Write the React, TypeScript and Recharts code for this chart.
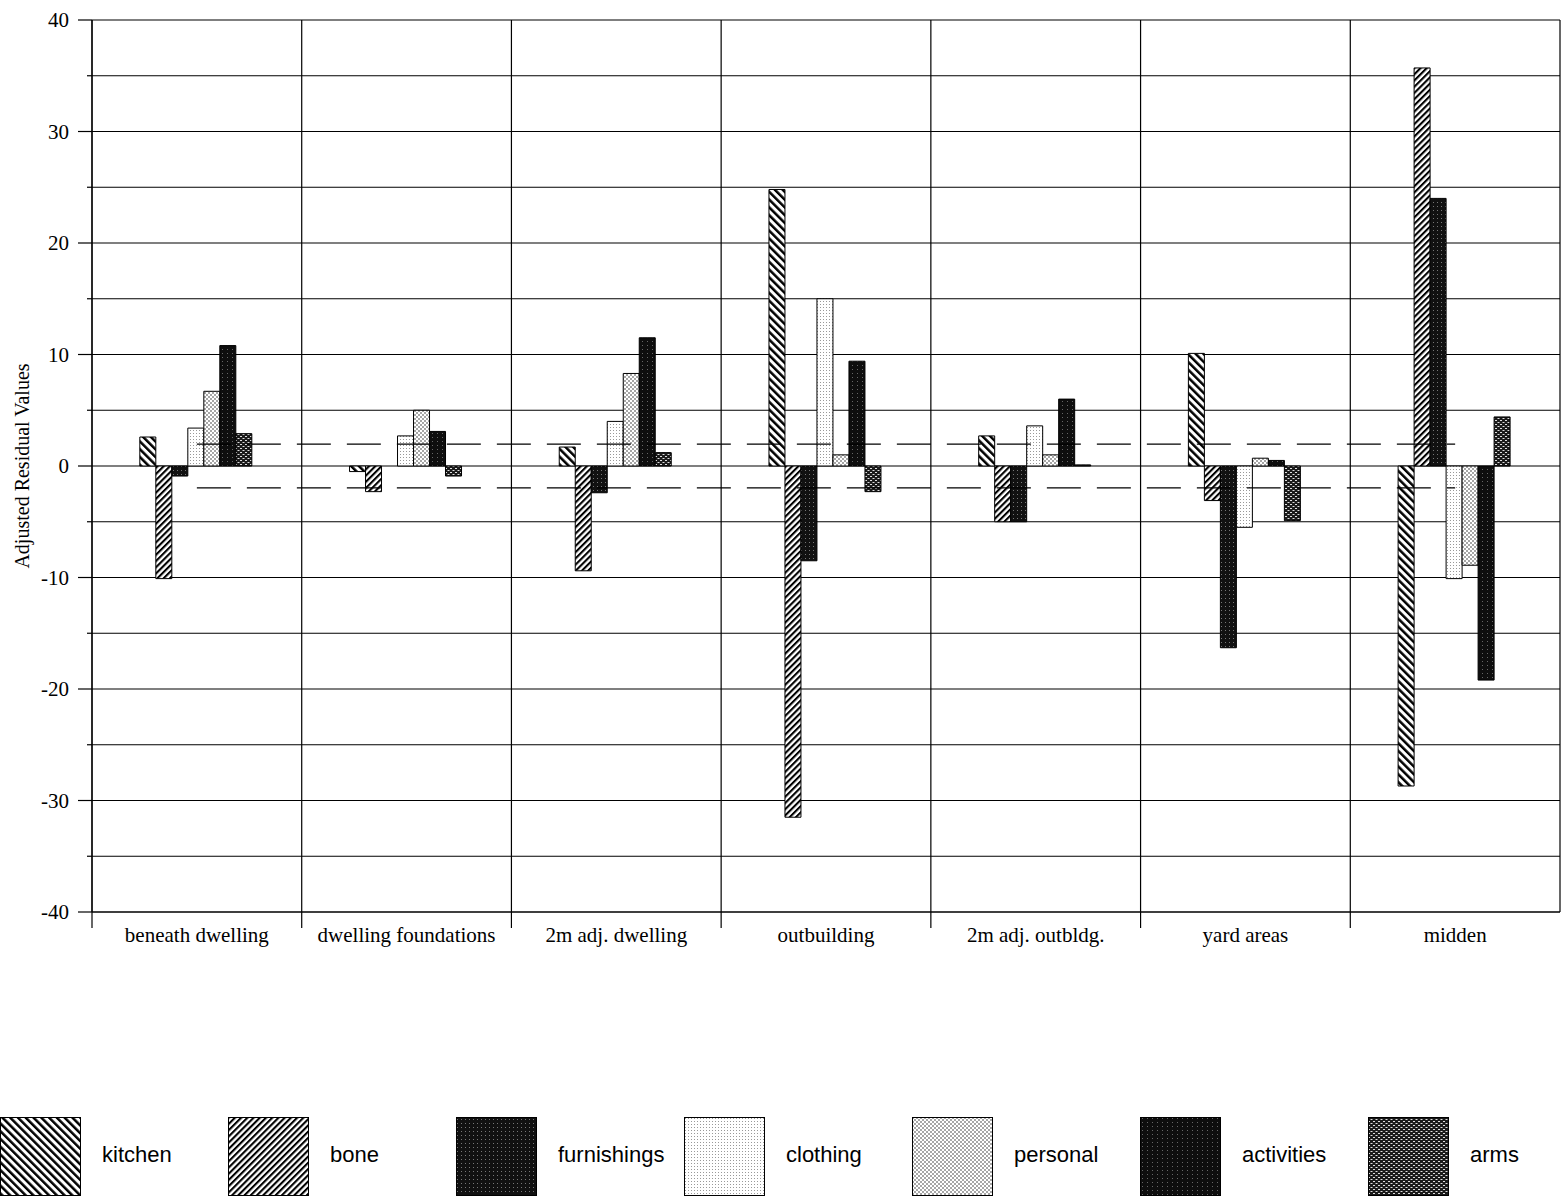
import { ComposedChart, Bar, Line, XAxis, YAxis, CartesianGrid } from 'recharts';

const SERIF = "'Liberation Serif', 'Times New Roman', serif";
const SANS = "'Liberation Sans', Arial, sans-serif";

// chart geometry
const W = 1562;
const H = 1000;
const MARGIN = { top: 20, right: 2, left: 0, bottom: 38 };
const Y_AXIS_W = 92;
const X_AXIS_H = 50;

const CATEGORIES = [
  'beneath dwelling',
  'dwelling foundations',
  '2m adj. dwelling',
  'outbuilding',
  '2m adj. outbldg.',
  'yard areas',
  'midden',
];

const KITCHEN = [2.6, -0.5, 1.7, 24.8, 2.7, 10.1, -28.7];
const BONE = [-10.1, -2.3, -9.4, -31.5, -5.0, -3.1, 35.7];
const FURNISHINGS = [-0.9, 0, -2.4, -8.5, -5.0, -16.3, 24.0];
const CLOTHING = [3.4, 2.7, 4.0, 15.0, 3.6, -5.5, -10.1];
const PERSONAL = [6.7, 5.0, 8.3, 1.0, 1.0, 0.7, -8.9];
const ACTIVITIES = [10.8, 3.1, 11.5, 9.4, 6.0, 0.5, -19.2];
const ARMS = [2.9, -0.9, 1.2, -2.3, 0.1, -4.9, 4.4];

// significance band (+/- 1.96)
const UPPER = 1.96;
const LOWER = -1.96;

const Y_TICKS = [-40, -35, -30, -25, -20, -15, -10, -5, 0, 5, 10, 15, 20, 25, 30, 35, 40];
const Y_LABEL = 'Adjusted Residual Values';

const SERIES = [
  { key: 'kitchen', values: KITCHEN, fill: 'url(#pat-kitchen)' },
  { key: 'bone', values: BONE, fill: 'url(#pat-bone)' },
  { key: 'furnishings', values: FURNISHINGS, fill: 'url(#pat-furnishings)' },
  { key: 'clothing', values: CLOTHING, fill: 'url(#pat-clothing)' },
  { key: 'personal', values: PERSONAL, fill: 'url(#pat-personal)' },
  { key: 'activities', values: ACTIVITIES, fill: 'url(#pat-activities)' },
  { key: 'arms', values: ARMS, fill: 'url(#pat-arms)' },
];

const chartData = CATEGORIES.map((name, i) => {
  const row: Record<string, string | number> = { name, upper: UPPER, lower: LOWER };
  SERIES.forEach(s => { row[s.key] = s.values[i]; });
  return row;
});

const PLOT_W = W - MARGIN.left - MARGIN.right - Y_AXIS_W;
const BAND = PLOT_W / CATEGORIES.length;

// shared svg patterns (used by chart bars and legend swatches)
const Patterns = () => (
  <svg width={0} height={0} style={{ position: 'absolute' }}>
    <defs>
      <pattern id="pat-kitchen" patternUnits="userSpaceOnUse" width={5.5} height={5.5} patternTransform="rotate(-45)">
        <rect width={5.5} height={5.5} fill="#fff" />
        <rect width={2.5} height={5.5} fill="#000" />
      </pattern>
      <pattern id="pat-bone" patternUnits="userSpaceOnUse" width={4.4} height={4.4} patternTransform="rotate(45)">
        <rect width={4.4} height={4.4} fill="#fff" />
        <rect width={2.1} height={4.4} fill="#000" />
      </pattern>
      <pattern id="pat-furnishings" patternUnits="userSpaceOnUse" width={4} height={4}>
        <rect width={4} height={4} fill="#111" />
        <rect x={1} y={2} width={1} height={1} fill="#777" />
      </pattern>
      <pattern id="pat-clothing" patternUnits="userSpaceOnUse" width={3} height={3}>
        <rect width={3} height={3} fill="#fff" />
        <rect x={1} y={1} width={1} height={1} fill="#999" />
      </pattern>
      <pattern id="pat-personal" patternUnits="userSpaceOnUse" width={4} height={4}>
        <rect width={4} height={4} fill="#fff" />
        <circle cx={1} cy={1} r={0.75} fill="#222" />
        <circle cx={3} cy={3} r={0.75} fill="#222" />
      </pattern>
      <pattern id="pat-activities" patternUnits="userSpaceOnUse" width={5} height={4}>
        <rect width={5} height={4} fill="#0e0e0e" />
        <rect x={2} y={1} width={1} height={1} fill="#666" />
      </pattern>
      <pattern id="pat-arms" patternUnits="userSpaceOnUse" width={5} height={4}>
        <rect width={5} height={4} fill="#1a1a1a" />
        <rect x={0} y={0} width={2} height={1} fill="#ddd" />
        <rect x={2.5} y={2} width={2} height={1} fill="#ddd" />
      </pattern>
    </defs>
  </svg>
);

const YTick = (props: any) => {
  const { x, y, payload } = props;
  const major = payload.value % 10 === 0;
  return (
    <g>
      <line x1={major ? x - 14 : x - 5} x2={x} y1={y} y2={y} stroke="#000" strokeWidth={1.2} />
      {major && (
        <text x={x - 23} y={y} dy={7} textAnchor="end" fontFamily={SERIF} fontSize={21} fill="#000">
          {payload.value}
        </text>
      )}
    </g>
  );
};

const XTick = (props: any) => {
  const { x, y, payload } = props;
  const left = x - BAND / 2;
  return (
    <g>
      <line x1={left} x2={left} y1={y} y2={y + 16} stroke="#000" strokeWidth={1.2} />
      <text x={x} y={y + 30} textAnchor="middle" fontFamily={SERIF} fontSize={21} fill="#000">
        {payload.value}
      </text>
    </g>
  );
};

const LegendRow = () => (
  <div style={{ position: 'absolute', left: 0, top: 1117, display: 'flex' }}>
    {SERIES.map(s => (
      <div key={s.key} style={{ width: 228, display: 'flex', alignItems: 'center' }}>
        <svg width={81} height={79} style={{ flex: 'none' }}>
          <rect x={0.5} y={0.5} width={80} height={78} fill={s.fill} stroke="#000" strokeWidth={1} />
        </svg>
        <span style={{ marginLeft: 21, marginTop: -4, fontFamily: SANS, fontSize: 22, color: '#000' }}>{s.key}</span>
      </div>
    ))}
  </div>
);

const App = () => (
  <div style={{ position: 'absolute', left: 0, top: 0, width: W, height: 1201, background: '#fff', fontFamily: SERIF }}>
    <Patterns />
    <ComposedChart
      width={W}
      height={H}
      data={chartData}
      margin={MARGIN}
      barCategoryGap="22.8%"
      barGap={0}
    >
      <CartesianGrid
        stroke="#000"
        strokeWidth={1.2}
        verticalCoordinatesGenerator={({ offset }: any) =>
          CATEGORIES.map((_, i) => offset.left + i * (offset.width / CATEGORIES.length)).concat(offset.left + offset.width)
        }
      />
      <XAxis
        dataKey="name"
        height={X_AXIS_H}
        tickSize={0}
        tickMargin={0}
        tickLine={false}
        axisLine={{ stroke: '#000', strokeWidth: 1.2 }}
        interval={0}
        tick={<XTick />}
      />
      <YAxis
        width={Y_AXIS_W}
        domain={[-40, 40]}
        ticks={Y_TICKS}
        tickSize={0}
        tickMargin={0}
        tickLine={false}
        axisLine={{ stroke: '#000', strokeWidth: 1.2 }}
        tick={<YTick />}
        label={{
          value: Y_LABEL,
          angle: -90,
          position: 'insideLeft',
          offset: 0,
          dx: 22,
          style: { fontFamily: SERIF, fontSize: 20, fill: '#000', textAnchor: 'middle' },
        }}
      />
      {SERIES.map(s => (
        <Bar key={s.key} dataKey={s.key} fill={s.fill} stroke="#000" strokeWidth={1} isAnimationActive={false} />
      ))}
      <Line dataKey="upper" stroke="#000" strokeWidth={1.2} strokeDasharray="34 16" dot={false} activeDot={false} legendType="none" isAnimationActive={false} />
      <Line dataKey="lower" stroke="#000" strokeWidth={1.2} strokeDasharray="34 16" dot={false} activeDot={false} legendType="none" isAnimationActive={false} />
    </ComposedChart>
    <LegendRow />
  </div>
);

export default App;
